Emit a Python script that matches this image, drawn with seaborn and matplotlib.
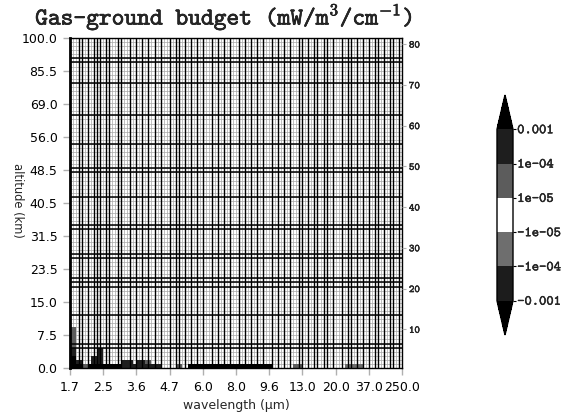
import numpy as np
import matplotlib
matplotlib.use("Agg")
import matplotlib.pyplot as plt
import matplotlib.patheffects as pe
from matplotlib.colors import ListedColormap, BoundaryNorm
import seaborn as sns

sns.set_theme(style="white")
plt.rcParams['font.family'] = ['DejaVu Sans']
plt.rcParams['mathtext.fontset'] = 'cm'

# grid dimensions (wavelength bins x altitude levels)
n_wave = 110
n_level = 81

wave_labels = ["1.7", "2.5", "3.6", "4.7", "6.0", "8.0", "9.6", "13.0", "20.0", "37.0", "250.0"]
alt_labels = ["0.0", "7.5", "15.0", "23.5", "31.5", "40.5", "48.5", "56.0", "69.0", "85.5", "100.0"]
level_labels = [10, 20, 30, 40, 50, 60, 70, 80]

# non-zero budget blocks: wavelength bin range, level range, value (mW/m3/cm-1)
blk_wave_start = [0, 0, 0, 2, 4, 6, 17, 2, 7, 9, 17, 22, 25, 35, 39, 74, 91]
blk_wave_stop = [2, 2, 2, 4, 6, 17, 30, 4, 11, 11, 21, 25, 27, 37, 67, 77, 97]
blk_lev_start = [0, 3, 5, 0, 0, 0, 0, 1, 1, 3, 1, 1, 1, 0, 0, 0, 0]
blk_lev_stop = [3, 5, 10, 1, 1, 1, 1, 2, 3, 5, 2, 2, 2, 1, 1, 1, 1]
blk_value = [2e-3, 5e-4, 5e-5, 2e-3, 5e-5, 2e-3, 5e-4, 5e-4, 5e-4, 5e-4,
             5e-4, 5e-4, 5e-5, 5e-5, 2e-3, 5e-5, -5e-5]

# contour levels of the colour scale
bounds = [-1e-3, -1e-4, -1e-5, 1e-5, 1e-4, 1e-3]
bound_labels = ["-0.001", "-1e-04", "-1e-05", "1e-05", "1e-04", "0.001"]

budget = np.zeros((n_level, n_wave))
for w0, w1, l0, l1, v in zip(blk_wave_start, blk_wave_stop, blk_lev_start,
                             blk_lev_stop, blk_value):
    budget[l0:l1, w0:w1] = v

# the near-zero class is left transparent so the fine cell grid shows through
cmap = ListedColormap(["#1c1c1c", "#6e6e6e", (1, 1, 1, 0), "#5c5c5c", "#1e1e1e"])
cmap = cmap.with_extremes(under="black", over="black")
norm = BoundaryNorm(bounds, cmap.N)

fig = plt.figure(figsize=(5.75, 4.15), dpi=100)
W, H = 575, 415
ax = fig.add_axes([70 / W, 47 / H, 332 / W, 330 / H])
cax = fig.add_axes([497 / W, 80 / H, 16 / W, 240 / H])

sns.heatmap(budget, ax=ax, cmap=cmap, norm=norm, cbar=False, linewidths=0,
            xticklabels=False, yticklabels=False)
ax.set_xlim(0, n_wave)
ax.set_ylim(0, n_level)

# fine cell grid underneath the budget field
ax.vlines(np.arange(n_wave + 1), 0, n_level, color="#a6a6a6", lw=0.5, zorder=0.5)
ax.hlines(np.arange(n_level + 1), 0, n_wave, color="#a6a6a6", lw=0.5, zorder=0.5)

# heavier grid lines on the irregular spectral / vertical grid
wave_edges = [3, 4, 6, 8, 9, 10, 12, 13, 16, 17, 20, 22, 24, 26, 28, 30, 33, 35, 36,
              38, 40, 42, 44, 47, 49, 51, 53, 56, 58, 60, 62, 64, 67, 69, 71, 73, 76,
              77, 79, 81, 82, 84, 85, 87, 90, 92, 93, 95, 97, 99, 101, 102, 104, 106,
              107, 109]
level_edges = [5, 6, 13, 20, 21, 22, 27, 28, 34, 35, 42, 48, 49, 55, 62, 70, 75, 76]
ax.vlines(wave_edges, 0, n_level, color="black", lw=1.0, zorder=2)
ax.hlines(level_edges, 0, n_wave, color="black", lw=1.1, zorder=2)

for name, s in ax.spines.items():
    s.set_visible(True)
    s.set_color("black")
    s.set_linewidth(1.0)
ax.spines["left"].set_linewidth(2.0)

ax.set_xticks(np.linspace(0, n_wave, len(wave_labels)))
ax.set_xticklabels(wave_labels)
ax.set_yticks(np.linspace(0, n_level, len(alt_labels)))
ax.set_yticklabels(alt_labels)
ax.tick_params(axis="both", bottom=True, left=True, length=5, width=1,
               color="#b0b0b0", direction="out", labelsize=9, pad=4,
               labelcolor="black")

bold = [pe.withStroke(linewidth=0.3, foreground="black")]
mono = ["cmtt10", "DejaVu Serif"]

ax2 = ax.twinx()
ax2.set_ylim(0, n_level)
ax2.set_yticks([v - 0.5 for v in level_labels])
ax2.set_yticklabels([str(v) for v in level_labels], family=mono, fontsize=7.5)
for t in ax2.get_yticklabels():
    t.set_path_effects(bold)
ax2.tick_params(axis="y", right=True, length=3, width=0.8, color="#b0b0b0", pad=2)
for s in ax2.spines.values():
    s.set_visible(False)
ax2.grid(False)

cb = fig.colorbar(ax.collections[0], cax=cax, extend="both", extendfrac=0.2,
                  spacing="uniform", ticks=bounds)
cb.ax.set_yticklabels(bound_labels, family=mono, fontsize=10)
for t in cb.ax.get_yticklabels():
    t.set_path_effects(bold)
cb.ax.tick_params(length=2, width=0.8, pad=1, color="black")
cb.outline.set_linewidth(1.0)
cb.outline.set_edgecolor("black")

fig.text(224 / W, 1 - 17 / H, "Gas-ground budget (mW/m$^3$/cm$^{-1}$)",
         family=mono, fontsize=17.5, ha="center", va="center",
         path_effects=[pe.withStroke(linewidth=0.4, foreground="black")])
fig.text(236 / W, 1 - 405 / H, "wavelength (µm)", fontsize=9, ha="center", va="center")
fig.text(17 / W, 1 - 200 / H, "altitude (km)", fontsize=8.3, rotation=-90,
         ha="center", va="center")

fig.savefig("out.png", dpi=100)
